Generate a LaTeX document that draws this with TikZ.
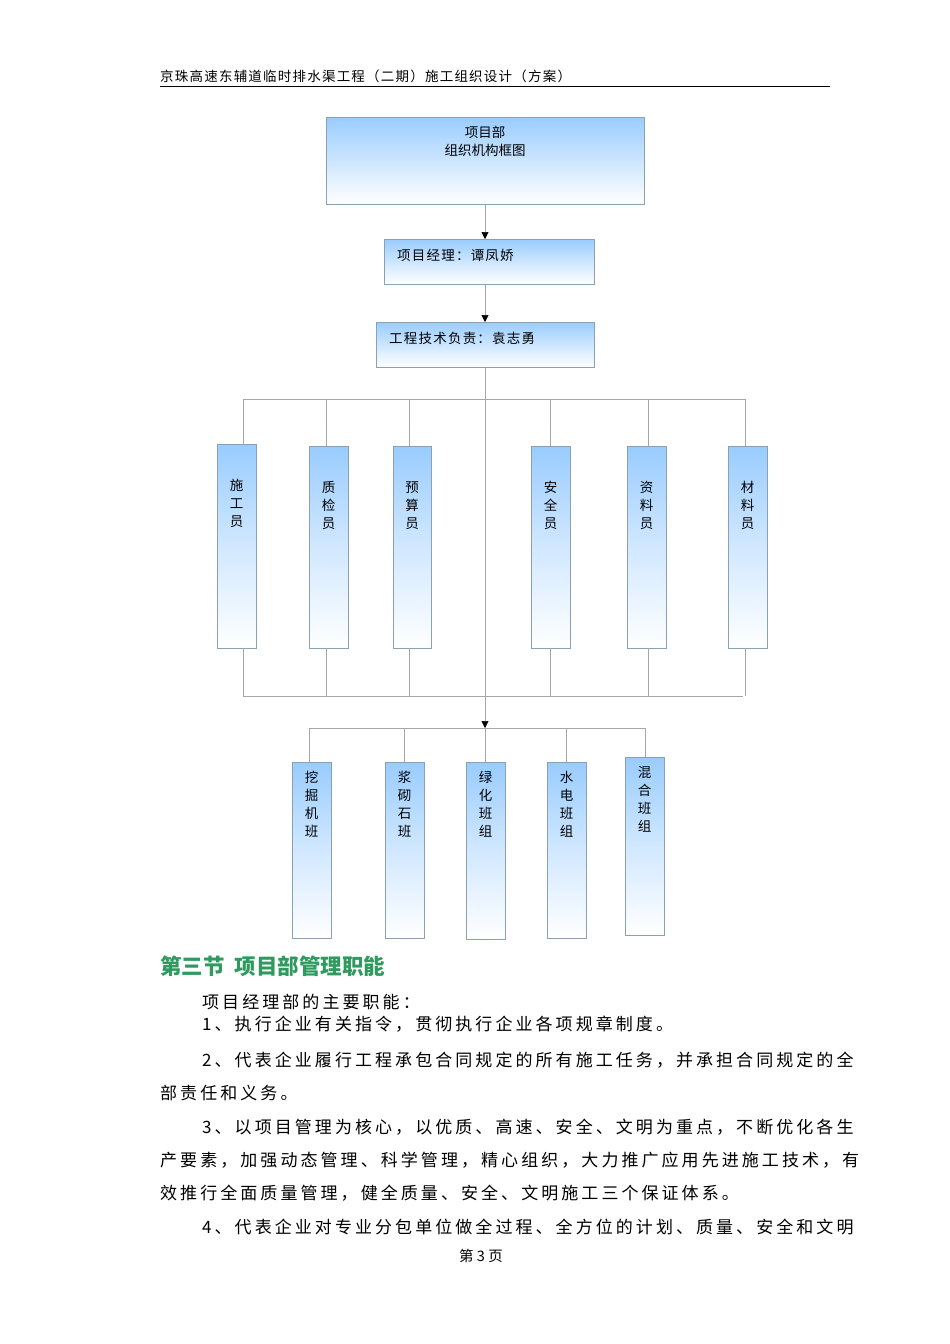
\documentclass[tikz,border=0pt]{standalone}
\usepackage{fontspec}
\setmainfont{Noto Sans CJK SC}
\newfontfamily\bodyf{Noto Sans CJK SC}[LetterSpace=18]
\newfontfamily\headf{Noto Sans CJK SC}[LetterSpace=9]
\usetikzlibrary{arrows.meta}
\definecolor{bx}{HTML}{99CCFF}
\definecolor{bd}{HTML}{8CA0B4}
\definecolor{gr}{HTML}{2E9A5E}
\tikzset{
 box/.style={draw=bd,line width=0.6pt,top color=bx,bottom color=white,middle color=bx!45,shading angle=0},
 hbox/.style={draw=bd,line width=0.6pt,top color=bx,bottom color=white,shading angle=0},
 ln/.style={draw=gray!70,line width=0.6pt},
 arr/.style={ln,-{Triangle[length=7pt,width=7pt,color=black]}},
 vt/.style={font=\fontsize{13.5}{18}\selectfont,align=center,anchor=north},
 bt/.style={font=\bodyf\fontsize{17}{20}\selectfont,anchor=base west}
}
\begin{document}
\begin{tikzpicture}[x=1pt,y=-1pt]
\useasboundingbox (0,0) rectangle (950,1344);
\fill[white] (0,0) rectangle (950,1344);
\node[font=\headf\fontsize{13.5}{15}\selectfont,anchor=base west,inner sep=0pt] (hd) at (160,81) {京珠高速东辅道临时排水渠工程（二期）施工组织设计（方案）};
\draw[line width=0.8pt] (160,86) -- (830,86);
% top boxes
\path[hbox] (326,117) rectangle (644,204);
\node[font=\fontsize{13.5}{18}\selectfont,align=center,anchor=north] (top) at (485,123) {项目部\\组织机构框图};
\coordinate (topb) at (485,204);
\path[hbox] (384,239) rectangle (594,284);
\coordinate (pmt) at (485,239); \coordinate (pmb) at (485,284);
\node[font=\headf\fontsize{13.5}{15}\selectfont,anchor=base west,inner sep=0pt] (pm) at (397,260) {项目经理：谭凤娇};
\path[hbox] (376,322) rectangle (594,367);
\coordinate (tet) at (485,322); \coordinate (teb) at (485,367);
\node[font=\headf\fontsize{13.5}{15}\selectfont,anchor=base west,inner sep=0pt] (te) at (389,343) {工程技术负责：袁志勇};
\draw[arr] (topb) -- (pmt);
\draw[arr] (pmb) -- (tet);
\coordinate (ar) at (485,728);
\draw[arr] (teb) -- (ar);
% middle row
\draw[ln] (243,399) -- (745,399);
\draw[ln] (243,696) -- (743,696);
\foreach \x/\l/\r/\t/\txt/\nm in {243/217/256/444/施\\工\\员/a,326/309/348/446/质\\检\\员/b,409/393/431/446/预\\算\\员/c,550/531/570/446/安\\全\\员/d,648/627/666/446/资\\料\\员/e,745/728/767/446/材\\料\\员/f}{
 \path[box] (\l,\t) rectangle (\r,648);
 \node[vt] (\nm) at ({(\l+\r)/2},\t+32) {\txt};
 \draw[ln] (\x,399) -- (\x,\t);
 \draw[ln] (\x,648) -- (\x,696);
}
% bottom row
\draw[ln] (309,728) -- (645,728);
\foreach \x/\l/\r/\t/\bo/\txt/\nm in {309/292/331/762/938/挖\\掘\\机\\班/g,404/385/424/762/938/浆\\砌\\石\\班/h,485/466/505/762/939/绿\\化\\班\\组/i,566/547/586/762/938/水\\电\\班\\组/j,645/625/664/757/935/混\\合\\班\\组/k}{
 \path[box] (\l,\t) rectangle (\r,\bo);
 \node[vt] (\nm) at ({(\l+\r)/2},\t+6) {\txt};
 \draw[ln] (\x,728) -- (\x,\t);
}
% text
\node[font=\bfseries\fontsize{21.5}{24}\selectfont,text=gr,anchor=base west,inner sep=0pt] (sec) at (160,974) {第三节\ \ 项目部管理职能};
\node[bt,inner sep=0pt] (p0) at (202,1008) {项目经理部的主要职能：};
\node[bt,inner sep=0pt] (p1) at (202,1030) {1、执行企业有关指令，贯彻执行企业各项规章制度。};
\node[bt,inner sep=0pt] (p2) at (202,1066) {2、代表企业履行工程承包合同规定的所有施工任务，并承担合同规定的全};
\node[bt,inner sep=0pt] (p2b) at (160,1099) {部责任和义务。};
\node[bt,inner sep=0pt] (p3) at (202,1133) {3、以项目管理为核心，以优质、高速、安全、文明为重点，不断优化各生};
\node[bt,inner sep=0pt] (p3b) at (160,1166) {产要素，加强动态管理、科学管理，精心组织，大力推广应用先进施工技术，有};
\node[bt,inner sep=0pt] (p3c) at (160,1199) {效推行全面质量管理，健全质量、安全、文明施工三个保证体系。};
\node[bt,inner sep=0pt] (p4) at (202,1233) {4、代表企业对专业分包单位做全过程、全方位的计划、质量、安全和文明};
\node[font=\fontsize{14.5}{16}\selectfont,anchor=base] (pg) at (481,1261) {第 3 页};
\end{tikzpicture}
\end{document}
